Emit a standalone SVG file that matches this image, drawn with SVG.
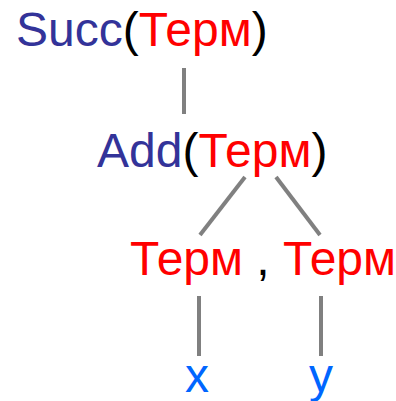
<svg xmlns="http://www.w3.org/2000/svg" width="396" height="401" viewBox="0 0 396 401">
<style>
text{font-family:"Liberation Sans",Arial,sans-serif;font-size:48px}
.f{fill:#333399}.t{fill:#ff0000}.k{fill:#000000}.v{fill:#0066ff}
.c line{stroke:#808080;stroke-width:4}
</style>
<rect width="396" height="401" fill="#ffffff"/>
<g class="c" id="connectors">
<line x1="184" y1="68" x2="184" y2="114"/>
<line x1="245" y1="177" x2="200" y2="235"/>
<line x1="276" y1="177" x2="320" y2="235"/>
<line x1="199" y1="296" x2="199" y2="356"/>
<line x1="321" y1="296" x2="321" y2="356"/>
</g>
<g id="succ"><text x="16" y="46"><tspan class="f">Succ</tspan><tspan class="k">(</tspan><tspan class="t">Терм</tspan><tspan class="k">)</tspan></text></g>
<g id="add"><text x="97" y="167"><tspan class="f">Add</tspan><tspan class="k">(</tspan><tspan class="t">Терм</tspan><tspan class="k">)</tspan></text></g>
<g id="terms"><text x="130" y="275"><tspan class="t">Терм</tspan><tspan class="k"> , </tspan><tspan class="t">Терм</tspan></text></g>
<g id="x"><text class="v" x="197" y="392" text-anchor="middle">x</text></g>
<g id="y"><text class="v" x="321" y="392" text-anchor="middle">y</text></g>
</svg>
